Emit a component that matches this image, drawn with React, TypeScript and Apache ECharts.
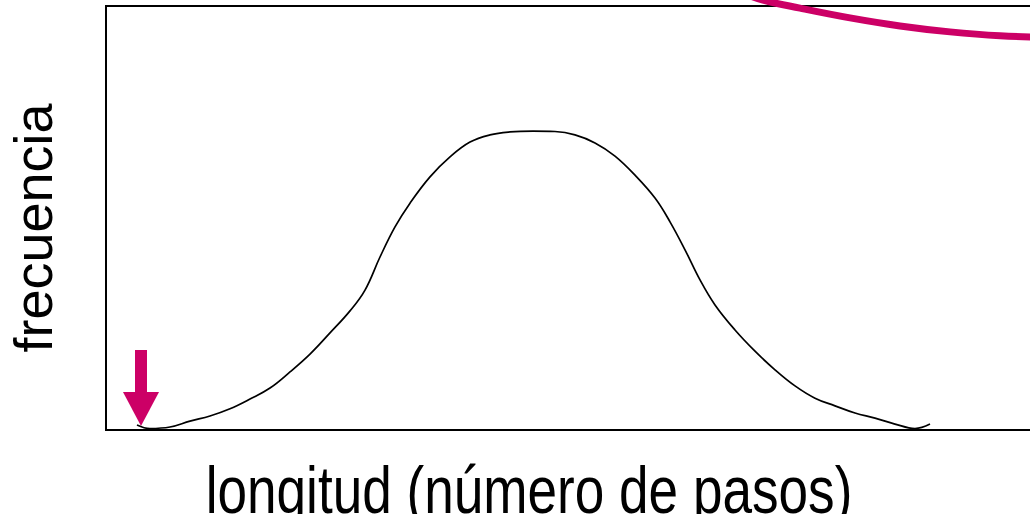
import React, { useEffect, useRef } from "react";
import * as echarts from "echarts";

// longitud (número de pasos) — abstract units
const lengthSteps = [3.1, 4.4, 6.4, 8.4, 10.4, 12.4, 14.4, 16.4, 18.4, 20.4, 22.4, 24.4, 25.9, 27.4, 28.9, 30.4, 32.4, 34.4, 36.4, 38.4, 40.4, 42.7, 44.9, 46.9, 48.9, 50.9, 52.9, 54.9, 56.4, 57.9, 59.4, 60.9, 62.9, 64.9, 66.9, 68.9, 70.9, 72.9, 74.9, 76.9, 78.9, 80.9, 82.4];
const frequency = [1.2, 0.35, 0.7, 2.1, 3.3, 5.0, 7.3, 9.9, 13.7, 17.9, 22.9, 28.1, 33.0, 40.8, 47.9, 53.5, 59.7, 64.4, 67.9, 69.6, 70.3, 70.5, 70.4, 69.6, 67.7, 64.6, 60.1, 54.7, 49.1, 42.5, 35.4, 29.5, 23.6, 18.6, 14.2, 10.4, 7.5, 5.7, 4.0, 2.8, 1.4, 0.35, 1.4];

// pink decaying curve at the top right
const pinkX = [63.4, 65.7, 69.4, 74.4, 79.4, 84.4, 89.4, 96];
const pinkY = [103.3, 101.4, 99.5, 97.2, 95.3, 93.9, 93.0, 92.5];

// arrow tip (data coords)
const arrowTarget = [3.5, 0.95];

const xLabel = "longitud (número de pasos)";
const yLabel = "frecuencia";

const PINK = "#CC0066";

export default function App() {
  const ref = useRef<HTMLDivElement>(null);
  useEffect(() => {
    if (!ref.current) return;
    const chart = echarts.init(ref.current, undefined, { renderer: "svg" });
    chart.setOption({
      animation: false,
      grid: {
        left: 106,
        top: 6,
        right: 0,
        bottom: 84,
        show: true,
        borderColor: "#000",
        borderWidth: 2,
        backgroundColor: "transparent",
      },
      xAxis: {
        type: "value",
        min: 0,
        max: 96,
        axisLine: { show: false },
        axisTick: { show: false },
        axisLabel: { show: false },
        splitLine: { show: false },
      },
      yAxis: {
        type: "value",
        min: 0,
        max: 100,
        axisLine: { show: false },
        axisTick: { show: false },
        axisLabel: { show: false },
        splitLine: { show: false },
      },
      series: [
        {
          type: "line",
          data: lengthSteps.map((x, i) => [x, frequency[i]]),
          smooth: 0.4,
          showSymbol: false,
          lineStyle: { color: "#000", width: 1.7 },
        },
        {
          type: "line",
          data: pinkX.map((x, i) => [x, pinkY[i]]),
          smooth: 0.4,
          showSymbol: false,
          clip: false,
          lineStyle: { color: PINK, width: 7 },
        },
      ],
    });
    const tip = chart.convertToPixel({ xAxisIndex: 0, yAxisIndex: 0 }, arrowTarget) as number[];
    const tx = tip[0];
    const ty = tip[1];
    chart.setOption({
      graphic: [
        {
          type: "group",
          children: [
            {
              type: "rect",
              shape: { x: tx - 6, y: ty - 76, width: 12, height: 44 },
              style: { fill: PINK },
            },
            {
              type: "polygon",
              shape: { points: [[tx - 18, ty - 34], [tx + 18, ty - 34], [tx, ty]] },
              style: { fill: PINK },
            },
          ],
        },
        {
          type: "text",
          x: 33,
          y: 228,
          rotation: Math.PI / 2,
          style: {
            text: yLabel,
            fontFamily: "Liberation Sans",
            fontSize: 54,
            fill: "#000",
            align: "center",
            verticalAlign: "middle",
          },
        },
        {
          type: "text",
          x: 529,
          y: 490,
          scaleX: 0.805,
          style: {
            text: xLabel,
            fontFamily: "Liberation Sans",
            fontSize: 66,
            fill: "#000",
            align: "center",
            verticalAlign: "middle",
          },
        },
      ],
    });
    return () => chart.dispose();
  }, []);
  return (
    <div style={{ position: "absolute", left: 0, top: 0, width: 1030, height: 514, overflow: "hidden" }}>
      <div ref={ref} style={{ width: 1066, height: 514 }} />
    </div>
  );
}
